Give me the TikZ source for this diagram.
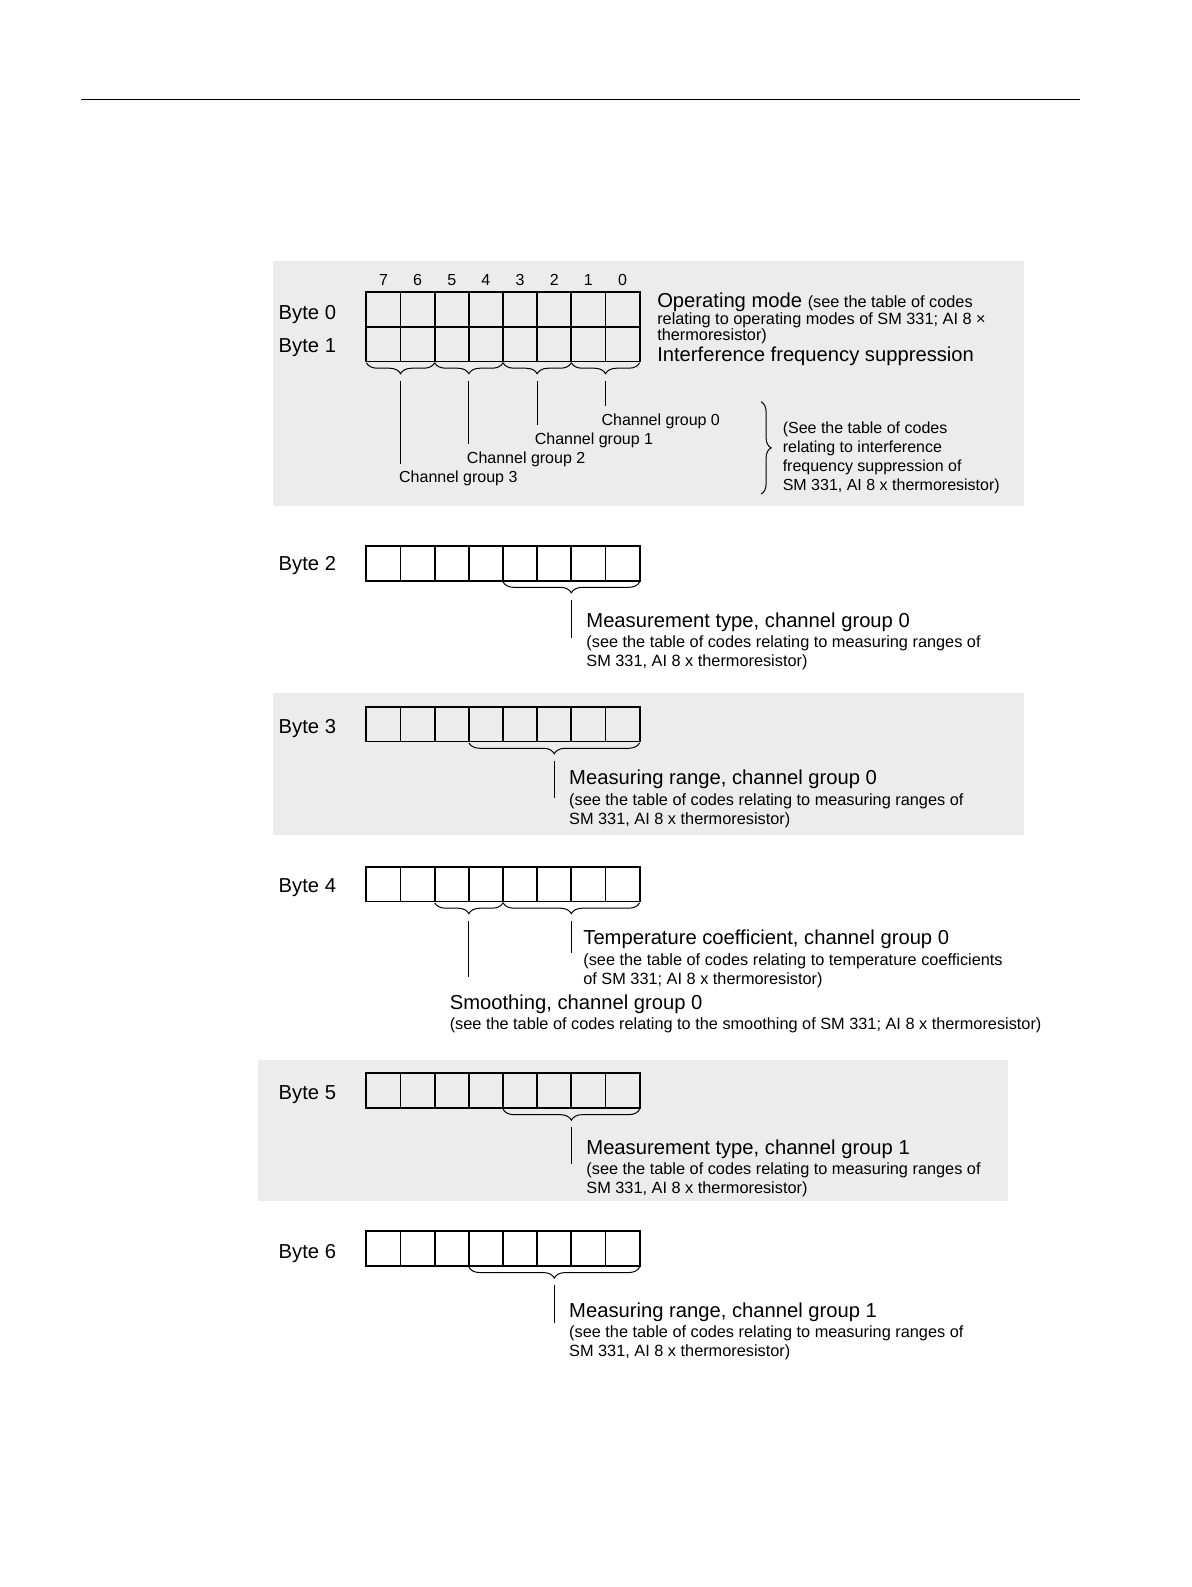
\documentclass[tikz,border=0pt]{standalone}
\usepackage{fontspec}
\setmainfont{Liberation Sans}
\usetikzlibrary{decorations.pathreplacing,calc}
\definecolor{bgG}{RGB}{236,236,236}
\newcommand\bigf{\fontsize{10.1}{12}\selectfont}
\newcommand\smallf{\fontsize{8.15}{9.5}\selectfont}
\tikzset{
  cell/.style={draw, line width=0.9pt, minimum width=17.08pt, minimum height=17.4pt, inner sep=0pt, outer sep=0pt},
  brc/.style={decorate, decoration={brace, mirror, amplitude=5.5pt}, line width=0.5pt},
  rbrc/.style={decorate, decoration={brace, amplitude=5pt}, line width=0.5pt},
  lead/.style={line width=0.6pt},
  bytelbl/.style={font=\bigf, anchor=west, inner sep=0pt, yshift=-1.2pt},
  big/.style={font=\bigf, anchor=west, inner sep=0pt, yshift=-1.2pt},
  small/.style={font=\smallf, anchor=west, inner sep=0pt, yshift=-1.2pt},
  cg/.style={font=\fontsize{8}{9.6}\selectfont, anchor=west, inner sep=0pt, yshift=-1pt},
  bitnum/.style={font=\fontsize{8}{9.6}\selectfont, inner sep=0pt, text height=5.8pt, text depth=0pt, anchor=center},
  panel/.style={fill=bgG, draw=none},
}
\newcommand\byterow[2]{%
  \foreach \b in {0,...,7}{\node[cell] (#1-\b) at ({362+33.75*(7.5-\b)},#2) {};}%
}
\newcommand\bitbrace[4]{%
  \draw[brc] ([yshift=-0.6pt]#1-#2.south west) -- ([yshift=-0.6pt]#1-#3.south east);
  \coordinate (#4) at ($(#1-#2.south west)!0.5!(#1-#3.south east)+(0,-7pt)$);
}
\newcommand\desc[6]{%
  \node[big] (#1) at (#2,#3) {#4};
  \node[small] (#1a) at (#2,{#3+21}) {#5};
  \node[small] (#1b) at (#2,{#3+40}) {#6};
}
\begin{document}
\begin{tikzpicture}[x=0.506pt,y=-0.506pt]
\path[use as bounding box] (0,0) rectangle (1177,1568);
% top rule
\draw[line width=0.6pt] (80,98) -- (1067,98);
% panels
\fill[panel] (270,258) rectangle (1012,500);
\fill[panel] (270,685) rectangle (1012,825);
\fill[panel] (255,1047) rectangle (996,1187);
% bit numbers
\foreach \b in {0,...,7}{\node[bitnum] (n\b) at ({362+33.75*(7.5-\b)},276) {\b};}
% byte labels
\node[bytelbl] (l0) at (275,308) {Byte 0};
\node[bytelbl] (l1) at (275,341) {Byte 1};
\node[bytelbl] (l2) at (275,556) {Byte 2};
\node[bytelbl] (l3) at (275,717) {Byte 3};
\node[bytelbl] (l4) at (275,875) {Byte 4};
\node[bytelbl] (l5) at (275,1079) {Byte 5};
\node[bytelbl] (l6) at (275,1236) {Byte 6};
% rows
\byterow{b0}{306}
\byterow{b1}{340}
\byterow{b2}{556.5}
\byterow{b3}{715.5}
\byterow{b4}{873.5}
\byterow{b5}{1077.5}
\byterow{b6}{1233.5}
% byte 0/1 texts
\node[big] (om) at (649,296) {Operating mode {\smallf (see the table of codes}};
\node[small] (oma) at (649,314) {relating to operating modes of SM 331; AI 8 ×};
\node[small] (omb) at (649,330) {thermoresistor)};
\node[big] (ifs) at (649,350) {Interference frequency suppression};
% channel group braces
\bitbrace{b1}{7}{6}{g3}
\bitbrace{b1}{5}{4}{g2}
\bitbrace{b1}{3}{2}{g1}
\bitbrace{b1}{1}{0}{g0}
\node[cg] (cg0) at (594,414) {Channel group 0};
\node[cg] (cg1) at (528,433) {Channel group 1};
\node[cg] (cg2) at (461,452) {Channel group 2};
\node[cg] (cg3) at (394,471) {Channel group 3};
\foreach \i in {0,...,3}{\draw[lead] ([yshift=-2.5pt]g\i) -- ($(g\i |- cg\i.west)+(0,7.5pt)$);}
\coordinate (rb1) at (752,397);
\coordinate (rb2) at (752,488);
\draw[rbrc] (rb1) -- (rb2);
\node[cg, align=left] (rt) at (773,450.5) {(See the table of codes\\relating to interference\\frequency suppression of\\SM 331, AI 8 x thermoresistor)};
% byte 2
\bitbrace{b2}{3}{0}{t2}
\desc{d2}{579}{612}{Measurement type, channel group 0}{(see the table of codes relating to measuring ranges of}{SM 331, AI 8 x thermoresistor)}
\coordinate (e2) at (564,630);
\draw[lead] ([yshift=-2.5pt]t2) -- (t2 |- e2);
% byte 3
\bitbrace{b3}{4}{0}{t3}
\desc{d3}{562}{768}{Measuring range, channel group 0}{(see the table of codes relating to measuring ranges of}{SM 331, AI 8 x thermoresistor)}
\coordinate (e3) at (547,788);
\draw[lead] ([yshift=-2.5pt]t3) -- (t3 |- e3);
% byte 4
\bitbrace{b4}{5}{4}{t4a}
\bitbrace{b4}{3}{0}{t4b}
\desc{d4}{576}{926}{Temperature coefficient, channel group 0}{(see the table of codes relating to temperature coefficients}{of SM 331; AI 8 x thermoresistor)}
\coordinate (e4b) at (564,942);
\draw[lead] ([yshift=-2.5pt]t4b) -- (t4b |- e4b);
\node[big] (sm) at (444,990) {Smoothing, channel group 0};
\node[small] (sma) at (444,1011) {(see the table of codes relating to the smoothing of SM 331; AI 8 x thermoresistor)};
\coordinate (e4a) at (463,965);
\draw[lead] ([yshift=-2.5pt]t4a) -- (t4a |- e4a);
% byte 5
\bitbrace{b5}{3}{0}{t5}
\desc{d5}{579}{1133}{Measurement type, channel group 1}{(see the table of codes relating to measuring ranges of}{SM 331, AI 8 x thermoresistor)}
\coordinate (e5) at (564,1150);
\draw[lead] ([yshift=-2.5pt]t5) -- (t5 |- e5);
% byte 6
\bitbrace{b6}{4}{0}{t6}
\desc{d6}{562}{1294}{Measuring range, channel group 1}{(see the table of codes relating to measuring ranges of}{SM 331, AI 8 x thermoresistor)}
\coordinate (e6) at (547,1307);
\draw[lead] ([yshift=-2.5pt]t6) -- (t6 |- e6);
\end{tikzpicture}
\end{document}
